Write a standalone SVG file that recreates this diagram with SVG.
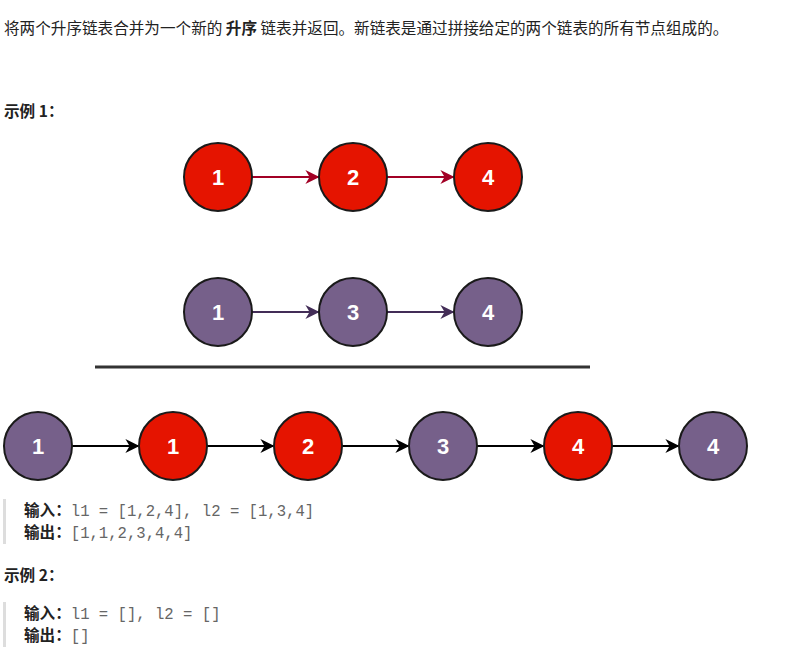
<svg xmlns="http://www.w3.org/2000/svg" width="800" height="656" viewBox="0 0 800 656">
<style>
.t{font-family:"Noto Sans CJK SC","Liberation Sans",sans-serif;font-size:15.6px;fill:#222}
.b{font-weight:bold}
.m{font-family:"Liberation Mono",monospace;font-size:15.6px;fill:#666}
.r{fill:#e51400;stroke:#1a1a1a;stroke-width:2}
.p{fill:#76608a;stroke:#1a1a1a;stroke-width:2}
.n{font-family:"Liberation Sans",sans-serif;font-size:22px;font-weight:bold;fill:#fff;text-anchor:middle}
.bar{fill:#ddd}
</style>
<defs>
<marker id="ar" viewBox="0 0 10 10" refX="9" refY="5" markerWidth="7" markerHeight="7" orient="auto"><path d="M0,0L10,5L0,10L3,5z" fill="#a20025"/></marker>
<marker id="ap" viewBox="0 0 10 10" refX="9" refY="5" markerWidth="7" markerHeight="7" orient="auto"><path d="M0,0L10,5L0,10L3,5z" fill="#432d57"/></marker>
<marker id="ak" viewBox="0 0 10 10" refX="9" refY="5" markerWidth="7" markerHeight="7" orient="auto"><path d="M0,0L10,5L0,10L3,5z" fill="#000"/></marker>
</defs>
<rect width="800" height="656" fill="#fff"/>
<text class="t" x="4" y="34">将两个升序链表合并为一个新的 <tspan class="b">升序</tspan> 链表并返回。新链表是通过拼接给定的两个链表的所有节点组成的。</text>
<text class="t b" x="4" y="117">示例 1：</text>
<g id="connectors" stroke-width="2">
<line x1="252" y1="177" x2="318" y2="177" stroke="#a20025" marker-end="url(#ar)"/>
<line x1="387" y1="177" x2="453" y2="177" stroke="#a20025" marker-end="url(#ar)"/>
<line x1="252" y1="312" x2="318" y2="312" stroke="#432d57" marker-end="url(#ap)"/>
<line x1="387" y1="312" x2="453" y2="312" stroke="#432d57" marker-end="url(#ap)"/>
<line x1="72" y1="446" x2="138" y2="446" stroke="#000" marker-end="url(#ak)"/>
<line x1="207" y1="446" x2="273" y2="446" stroke="#000" marker-end="url(#ak)"/>
<line x1="342" y1="446" x2="408" y2="446" stroke="#000" marker-end="url(#ak)"/>
<line x1="477" y1="446" x2="543" y2="446" stroke="#000" marker-end="url(#ak)"/>
<line x1="612" y1="446" x2="678" y2="446" stroke="#000" marker-end="url(#ak)"/>
</g>
<g id="a1"><circle class="r" cx="218" cy="177" r="34"/><text class="n" x="218" y="185">1</text></g>
<g id="a2"><circle class="r" cx="353" cy="177" r="34"/><text class="n" x="353" y="185">2</text></g>
<g id="a4"><circle class="r" cx="488" cy="177" r="34"/><text class="n" x="488" y="185">4</text></g>
<g id="b1"><circle class="p" cx="218" cy="312" r="34"/><text class="n" x="218" y="320">1</text></g>
<g id="b3"><circle class="p" cx="353" cy="312" r="34"/><text class="n" x="353" y="320">3</text></g>
<g id="b4"><circle class="p" cx="488" cy="312" r="34"/><text class="n" x="488" y="320">4</text></g>
<line x1="95" y1="367" x2="590" y2="367" stroke="#333" stroke-width="3"/>
<g id="c1"><circle class="p" cx="38" cy="446" r="34"/><text class="n" x="38" y="454">1</text></g>
<g id="c2"><circle class="r" cx="173" cy="446" r="34"/><text class="n" x="173" y="454">1</text></g>
<g id="c3"><circle class="r" cx="308" cy="446" r="34"/><text class="n" x="308" y="454">2</text></g>
<g id="c4"><circle class="p" cx="443" cy="446" r="34"/><text class="n" x="443" y="454">3</text></g>
<g id="c5"><circle class="r" cx="578" cy="446" r="34"/><text class="n" x="578" y="454">4</text></g>
<g id="c6"><circle class="p" cx="713" cy="446" r="34"/><text class="n" x="713" y="454">4</text></g>
<rect class="bar" x="3" y="499" width="3" height="45"/>
<text class="t b" x="24" y="516">输入：<tspan class="m" font-weight="normal">l1 = [1,2,4], l2 = [1,3,4]</tspan></text>
<text class="t b" x="24" y="538">输出：<tspan class="m" font-weight="normal">[1,1,2,3,4,4]</tspan></text>
<text class="t b" x="4" y="581">示例 2：</text>
<rect class="bar" x="3" y="602" width="3" height="45"/>
<text class="t b" x="24" y="619">输入：<tspan class="m" font-weight="normal">l1 = [], l2 = []</tspan></text>
<text class="t b" x="24" y="641">输出：<tspan class="m" font-weight="normal">[]</tspan></text>
</svg>
